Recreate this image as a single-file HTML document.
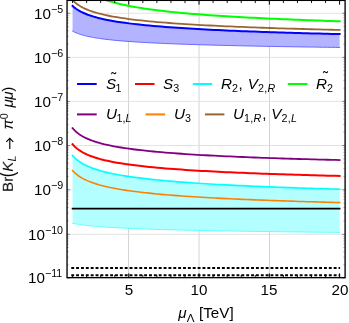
<!DOCTYPE html>
<html><head><meta charset="utf-8"><title>plot</title><style>
html,body{margin:0;padding:0;background:#fff;}
body{width:349px;height:323px;position:relative;overflow:hidden;font-family:"Liberation Sans",sans-serif;}
.t{position:absolute;font-size:15.2px;line-height:1;white-space:nowrap;color:#000;will-change:transform;transform:rotate(0.02deg);}
.t.r{text-align:right;}
.t.c{width:40px;text-align:center;}
.sup{font-size:10.7px;position:relative;top:-6.3px;line-height:0;}
.sup2{font-size:10.7px;position:relative;top:-5.4px;line-height:0;}
.sub{font-size:10.7px;position:relative;top:2.7px;line-height:0;}
.til{position:absolute;}
.cm{margin:0 0.7px 0 0.7px;}
.ls{letter-spacing:0.3px;}
.t.yl{transform-origin:0 0;transform:rotate(-89.98deg) translate(0,-100%);}
</style></head><body>
<svg width="349" height="323" viewBox="0 0 349 323" style="position:absolute;left:0;top:0">
<defs><clipPath id="c"><rect x="67.05" y="-0.33" width="278.05" height="277.98"/></clipPath></defs>
<g stroke="#d4d4d4" stroke-width="1"><line x1="128.55" x2="128.55" y1="0.37" y2="277.65"/><line x1="199.05" x2="199.05" y1="0.37" y2="277.65"/><line x1="269.50" x2="269.50" y1="0.37" y2="277.65"/></g>
<g stroke="#dcdcdc" stroke-width="0.8"><line x1="67.05" x2="345.10" y1="13.30" y2="13.30"/><line x1="67.05" x2="345.10" y1="57.40" y2="57.40"/><line x1="67.05" x2="345.10" y1="101.40" y2="101.40"/><line x1="67.05" x2="345.10" y1="145.50" y2="145.50"/><line x1="67.05" x2="345.10" y1="189.80" y2="189.80"/><line x1="67.05" x2="345.10" y1="234.30" y2="234.30"/></g>
<g clip-path="url(#c)">
<path d="M72.56 5.85 L73.73 6.90 L74.90 7.86 L76.07 8.73 L77.24 9.53 L78.41 10.27 L79.58 10.95 L80.75 11.59 L81.92 12.19 L83.10 12.75 L84.27 13.28 L85.44 13.78 L86.61 14.25 L87.78 14.70 L88.95 15.12 L90.12 15.53 L91.29 15.92 L92.47 16.29 L93.64 16.65 L94.81 16.99 L95.98 17.32 L97.15 17.63 L98.32 17.94 L99.49 18.23 L100.66 18.51 L104.71 19.42 L108.76 20.24 L112.81 20.98 L116.86 21.65 L120.91 22.27 L124.96 22.84 L129.01 23.38 L133.06 23.87 L137.11 24.34 L141.16 24.77 L145.21 25.18 L149.26 25.57 L153.31 25.94 L157.36 26.29 L161.41 26.62 L165.46 26.94 L169.51 27.24 L173.56 27.53 L177.61 27.81 L181.66 28.08 L185.71 28.33 L189.76 28.58 L193.81 28.82 L197.86 29.04 L201.91 29.27 L205.96 29.48 L210.01 29.69 L214.06 29.89 L218.11 30.08 L222.16 30.27 L226.21 30.45 L230.26 30.63 L234.31 30.80 L238.36 30.97 L242.41 31.13 L246.46 31.29 L250.51 31.45 L254.56 31.60 L258.61 31.74 L262.65 31.89 L266.70 32.03 L270.75 32.16 L274.80 32.30 L278.85 32.43 L282.90 32.56 L286.95 32.68 L291.00 32.80 L295.05 32.92 L299.10 33.04 L303.15 33.15 L307.20 33.27 L311.25 33.38 L315.30 33.49 L319.35 33.59 L323.40 33.70 L327.45 33.80 L331.50 33.90 L335.55 34.00 L339.60 34.09 L339.60 47.45 L335.55 47.40 L331.50 47.35 L327.45 47.29 L323.40 47.24 L319.35 47.18 L315.30 47.12 L311.25 47.07 L307.20 47.01 L303.15 46.95 L299.10 46.88 L295.05 46.82 L291.00 46.75 L286.95 46.69 L282.90 46.62 L278.85 46.55 L274.80 46.48 L270.75 46.41 L266.70 46.33 L262.65 46.26 L258.61 46.18 L254.56 46.10 L250.51 46.01 L246.46 45.93 L242.41 45.84 L238.36 45.75 L234.31 45.66 L230.26 45.56 L226.21 45.47 L222.16 45.36 L218.11 45.26 L214.06 45.15 L210.01 45.04 L205.96 44.93 L201.91 44.81 L197.86 44.68 L193.81 44.56 L189.76 44.42 L185.71 44.28 L181.66 44.14 L177.61 43.99 L173.56 43.83 L169.51 43.67 L165.46 43.50 L161.41 43.32 L157.36 43.13 L153.31 42.93 L149.26 42.72 L145.21 42.50 L141.16 42.27 L137.11 42.02 L133.06 41.75 L129.01 41.47 L124.96 41.16 L120.91 40.83 L116.86 40.47 L112.81 40.08 L108.76 39.65 L104.71 39.17 L100.66 38.64 L99.49 38.48 L98.32 38.30 L97.15 38.12 L95.98 37.94 L94.81 37.74 L93.64 37.54 L92.47 37.33 L91.29 37.11 L90.12 36.88 L88.95 36.64 L87.78 36.39 L86.61 36.12 L85.44 35.83 L84.27 35.54 L83.10 35.22 L81.92 34.88 L80.75 34.52 L79.58 34.13 L78.41 33.72 L77.24 33.27 L76.07 32.78 L74.90 32.24 L73.73 31.65 L72.56 31.00 Z" fill="#b3b3ff" stroke="none"/>
<path d="M72.56 155.58 L73.73 156.86 L74.90 158.01 L76.07 159.06 L77.24 160.02 L78.41 160.91 L79.58 161.74 L80.75 162.50 L81.92 163.22 L83.10 163.89 L84.27 164.53 L85.44 165.13 L86.61 165.69 L87.78 166.23 L88.95 166.74 L90.12 167.22 L91.29 167.69 L92.47 168.13 L93.64 168.56 L94.81 168.96 L95.98 169.35 L97.15 169.73 L98.32 170.09 L99.49 170.44 L100.66 170.78 L104.71 171.86 L108.76 172.83 L112.81 173.71 L116.86 174.51 L120.91 175.25 L124.96 175.93 L129.01 176.56 L133.06 177.14 L137.11 177.69 L141.16 178.21 L145.21 178.70 L149.26 179.16 L153.31 179.59 L157.36 180.00 L161.41 180.40 L165.46 180.77 L169.51 181.13 L173.56 181.47 L177.61 181.80 L181.66 182.12 L185.71 182.42 L189.76 182.71 L193.81 182.99 L197.86 183.26 L201.91 183.52 L205.96 183.77 L210.01 184.02 L214.06 184.25 L218.11 184.48 L222.16 184.71 L226.21 184.92 L230.26 185.13 L234.31 185.33 L238.36 185.53 L242.41 185.72 L246.46 185.91 L250.51 186.09 L254.56 186.27 L258.61 186.45 L262.65 186.62 L266.70 186.78 L270.75 186.94 L274.80 187.10 L278.85 187.25 L282.90 187.40 L286.95 187.55 L291.00 187.70 L295.05 187.84 L299.10 187.98 L303.15 188.11 L307.20 188.24 L311.25 188.38 L315.30 188.50 L319.35 188.63 L323.40 188.75 L327.45 188.87 L331.50 188.99 L335.55 189.11 L339.60 189.22 L339.60 232.42 L335.55 232.38 L331.50 232.34 L327.45 232.30 L323.40 232.25 L319.35 232.21 L315.30 232.17 L311.25 232.13 L307.20 232.08 L303.15 232.04 L299.10 231.99 L295.05 231.94 L291.00 231.89 L286.95 231.85 L282.90 231.80 L278.85 231.74 L274.80 231.69 L270.75 231.64 L266.70 231.58 L262.65 231.53 L258.61 231.47 L254.56 231.41 L250.51 231.35 L246.46 231.29 L242.41 231.23 L238.36 231.17 L234.31 231.10 L230.26 231.03 L226.21 230.97 L222.16 230.90 L218.11 230.82 L214.06 230.75 L210.01 230.67 L205.96 230.59 L201.91 230.51 L197.86 230.43 L193.81 230.34 L189.76 230.25 L185.71 230.16 L181.66 230.06 L177.61 229.96 L173.56 229.86 L169.51 229.75 L165.46 229.64 L161.41 229.52 L157.36 229.40 L153.31 229.28 L149.26 229.15 L145.21 229.01 L141.16 228.86 L137.11 228.71 L133.06 228.55 L129.01 228.38 L124.96 228.19 L120.91 228.00 L116.86 227.79 L112.81 227.57 L108.76 227.33 L104.71 227.07 L100.66 226.78 L99.49 226.70 L98.32 226.61 L97.15 226.51 L95.98 226.42 L94.81 226.32 L93.64 226.21 L92.47 226.11 L91.29 226.00 L90.12 225.88 L88.95 225.76 L87.78 225.64 L86.61 225.51 L85.44 225.38 L84.27 225.24 L83.10 225.09 L81.92 224.93 L80.75 224.77 L79.58 224.60 L78.41 224.42 L77.24 224.22 L76.07 224.02 L74.90 223.80 L73.73 223.56 L72.56 223.31 Z" fill="#b3ffff" stroke="none"/>
<path d="M72.56 31.00 L73.73 31.65 L74.90 32.24 L76.07 32.78 L77.24 33.27 L78.41 33.72 L79.58 34.13 L80.75 34.52 L81.92 34.88 L83.10 35.22 L84.27 35.54 L85.44 35.83 L86.61 36.12 L87.78 36.39 L88.95 36.64 L90.12 36.88 L91.29 37.11 L92.47 37.33 L93.64 37.54 L94.81 37.74 L95.98 37.94 L97.15 38.12 L98.32 38.30 L99.49 38.48 L100.66 38.64 L104.71 39.17 L108.76 39.65 L112.81 40.08 L116.86 40.47 L120.91 40.83 L124.96 41.16 L129.01 41.47 L133.06 41.75 L137.11 42.02 L141.16 42.27 L145.21 42.50 L149.26 42.72 L153.31 42.93 L157.36 43.13 L161.41 43.32 L165.46 43.50 L169.51 43.67 L173.56 43.83 L177.61 43.99 L181.66 44.14 L185.71 44.28 L189.76 44.42 L193.81 44.56 L197.86 44.68 L201.91 44.81 L205.96 44.93 L210.01 45.04 L214.06 45.15 L218.11 45.26 L222.16 45.36 L226.21 45.47 L230.26 45.56 L234.31 45.66 L238.36 45.75 L242.41 45.84 L246.46 45.93 L250.51 46.01 L254.56 46.10 L258.61 46.18 L262.65 46.26 L266.70 46.33 L270.75 46.41 L274.80 46.48 L278.85 46.55 L282.90 46.62 L286.95 46.69 L291.00 46.75 L295.05 46.82 L299.10 46.88 L303.15 46.95 L307.20 47.01 L311.25 47.07 L315.30 47.12 L319.35 47.18 L323.40 47.24 L327.45 47.29 L331.50 47.35 L335.55 47.40 L339.60 47.45" fill="none" stroke="#5c5cff" stroke-width="0.9" stroke-linejoin="round" stroke-linecap="square"/>
<path d="M72.56 223.31 L73.73 223.56 L74.90 223.80 L76.07 224.02 L77.24 224.22 L78.41 224.42 L79.58 224.60 L80.75 224.77 L81.92 224.93 L83.10 225.09 L84.27 225.24 L85.44 225.38 L86.61 225.51 L87.78 225.64 L88.95 225.76 L90.12 225.88 L91.29 226.00 L92.47 226.11 L93.64 226.21 L94.81 226.32 L95.98 226.42 L97.15 226.51 L98.32 226.61 L99.49 226.70 L100.66 226.78 L104.71 227.07 L108.76 227.33 L112.81 227.57 L116.86 227.79 L120.91 228.00 L124.96 228.19 L129.01 228.38 L133.06 228.55 L137.11 228.71 L141.16 228.86 L145.21 229.01 L149.26 229.15 L153.31 229.28 L157.36 229.40 L161.41 229.52 L165.46 229.64 L169.51 229.75 L173.56 229.86 L177.61 229.96 L181.66 230.06 L185.71 230.16 L189.76 230.25 L193.81 230.34 L197.86 230.43 L201.91 230.51 L205.96 230.59 L210.01 230.67 L214.06 230.75 L218.11 230.82 L222.16 230.90 L226.21 230.97 L230.26 231.03 L234.31 231.10 L238.36 231.17 L242.41 231.23 L246.46 231.29 L250.51 231.35 L254.56 231.41 L258.61 231.47 L262.65 231.53 L266.70 231.58 L270.75 231.64 L274.80 231.69 L278.85 231.74 L282.90 231.80 L286.95 231.85 L291.00 231.89 L295.05 231.94 L299.10 231.99 L303.15 232.04 L307.20 232.08 L311.25 232.13 L315.30 232.17 L319.35 232.21 L323.40 232.25 L327.45 232.30 L331.50 232.34 L335.55 232.38 L339.60 232.42" fill="none" stroke="#33ffff" stroke-width="0.7" stroke-linejoin="round" stroke-linecap="square"/>
<path d="M72.56 5.85 L73.73 6.90 L74.90 7.86 L76.07 8.73 L77.24 9.53 L78.41 10.27 L79.58 10.95 L80.75 11.59 L81.92 12.19 L83.10 12.75 L84.27 13.28 L85.44 13.78 L86.61 14.25 L87.78 14.70 L88.95 15.12 L90.12 15.53 L91.29 15.92 L92.47 16.29 L93.64 16.65 L94.81 16.99 L95.98 17.32 L97.15 17.63 L98.32 17.94 L99.49 18.23 L100.66 18.51 L104.71 19.42 L108.76 20.24 L112.81 20.98 L116.86 21.65 L120.91 22.27 L124.96 22.84 L129.01 23.38 L133.06 23.87 L137.11 24.34 L141.16 24.77 L145.21 25.18 L149.26 25.57 L153.31 25.94 L157.36 26.29 L161.41 26.62 L165.46 26.94 L169.51 27.24 L173.56 27.53 L177.61 27.81 L181.66 28.08 L185.71 28.33 L189.76 28.58 L193.81 28.82 L197.86 29.04 L201.91 29.27 L205.96 29.48 L210.01 29.69 L214.06 29.89 L218.11 30.08 L222.16 30.27 L226.21 30.45 L230.26 30.63 L234.31 30.80 L238.36 30.97 L242.41 31.13 L246.46 31.29 L250.51 31.45 L254.56 31.60 L258.61 31.74 L262.65 31.89 L266.70 32.03 L270.75 32.16 L274.80 32.30 L278.85 32.43 L282.90 32.56 L286.95 32.68 L291.00 32.80 L295.05 32.92 L299.10 33.04 L303.15 33.15 L307.20 33.27 L311.25 33.38 L315.30 33.49 L319.35 33.59 L323.40 33.70 L327.45 33.80 L331.50 33.90 L335.55 34.00 L339.60 34.09" fill="none" stroke="#0000ff" stroke-width="2" stroke-linejoin="round" stroke-linecap="square"/>
<path d="M72.56 144.28 L73.73 145.58 L74.90 146.74 L76.07 147.80 L77.24 148.76 L78.41 149.64 L79.58 150.46 L80.75 151.21 L81.92 151.91 L83.10 152.57 L84.27 153.19 L85.44 153.77 L86.61 154.31 L87.78 154.83 L88.95 155.32 L90.12 155.79 L91.29 156.23 L92.47 156.66 L93.64 157.06 L94.81 157.45 L95.98 157.82 L97.15 158.18 L98.32 158.52 L99.49 158.85 L100.66 159.17 L104.71 160.19 L108.76 161.10 L112.81 161.92 L116.86 162.66 L120.91 163.34 L124.96 163.97 L129.01 164.55 L133.06 165.10 L137.11 165.60 L141.16 166.07 L145.21 166.52 L149.26 166.94 L153.31 167.33 L157.36 167.71 L161.41 168.07 L165.46 168.41 L169.51 168.73 L173.56 169.04 L177.61 169.34 L181.66 169.62 L185.71 169.90 L189.76 170.16 L193.81 170.41 L197.86 170.65 L201.91 170.89 L205.96 171.11 L210.01 171.33 L214.06 171.54 L218.11 171.75 L222.16 171.95 L226.21 172.14 L230.26 172.33 L234.31 172.51 L238.36 172.68 L242.41 172.86 L246.46 173.02 L250.51 173.19 L254.56 173.34 L258.61 173.50 L262.65 173.65 L266.70 173.79 L270.75 173.94 L274.80 174.08 L278.85 174.21 L282.90 174.35 L286.95 174.48 L291.00 174.61 L295.05 174.73 L299.10 174.85 L303.15 174.97 L307.20 175.09 L311.25 175.20 L315.30 175.32 L319.35 175.43 L323.40 175.53 L327.45 175.64 L331.50 175.75 L335.55 175.85 L339.60 175.95" fill="none" stroke="#ff0000" stroke-width="2" stroke-linejoin="round" stroke-linecap="square"/>
<path d="M72.56 155.58 L73.73 156.86 L74.90 158.01 L76.07 159.06 L77.24 160.02 L78.41 160.91 L79.58 161.74 L80.75 162.50 L81.92 163.22 L83.10 163.89 L84.27 164.53 L85.44 165.13 L86.61 165.69 L87.78 166.23 L88.95 166.74 L90.12 167.22 L91.29 167.69 L92.47 168.13 L93.64 168.56 L94.81 168.96 L95.98 169.35 L97.15 169.73 L98.32 170.09 L99.49 170.44 L100.66 170.78 L104.71 171.86 L108.76 172.83 L112.81 173.71 L116.86 174.51 L120.91 175.25 L124.96 175.93 L129.01 176.56 L133.06 177.14 L137.11 177.69 L141.16 178.21 L145.21 178.70 L149.26 179.16 L153.31 179.59 L157.36 180.00 L161.41 180.40 L165.46 180.77 L169.51 181.13 L173.56 181.47 L177.61 181.80 L181.66 182.12 L185.71 182.42 L189.76 182.71 L193.81 182.99 L197.86 183.26 L201.91 183.52 L205.96 183.77 L210.01 184.02 L214.06 184.25 L218.11 184.48 L222.16 184.71 L226.21 184.92 L230.26 185.13 L234.31 185.33 L238.36 185.53 L242.41 185.72 L246.46 185.91 L250.51 186.09 L254.56 186.27 L258.61 186.45 L262.65 186.62 L266.70 186.78 L270.75 186.94 L274.80 187.10 L278.85 187.25 L282.90 187.40 L286.95 187.55 L291.00 187.70 L295.05 187.84 L299.10 187.98 L303.15 188.11 L307.20 188.24 L311.25 188.38 L315.30 188.50 L319.35 188.63 L323.40 188.75 L327.45 188.87 L331.50 188.99 L335.55 189.11 L339.60 189.22" fill="none" stroke="#00ffff" stroke-width="1.7" stroke-linejoin="round" stroke-linecap="square"/>
<path d="M72.56 -26.87 L73.73 -24.42 L74.90 -22.28 L76.07 -20.38 L77.24 -18.68 L78.41 -17.15 L79.58 -15.76 L80.75 -14.49 L81.92 -13.32 L83.10 -12.24 L84.27 -11.23 L85.44 -10.29 L86.61 -9.42 L87.78 -8.59 L88.95 -7.82 L90.12 -7.09 L91.29 -6.39 L92.47 -5.74 L93.64 -5.11 L94.81 -4.52 L95.98 -3.95 L97.15 -3.41 L98.32 -2.89 L99.49 -2.39 L100.66 -1.91 L104.71 -0.40 L108.76 0.94 L112.81 2.14 L116.86 3.21 L120.91 4.19 L124.96 5.09 L129.01 5.91 L133.06 6.67 L137.11 7.38 L141.16 8.04 L145.21 8.66 L149.26 9.24 L153.31 9.79 L157.36 10.31 L161.41 10.80 L165.46 11.26 L169.51 11.70 L173.56 12.12 L177.61 12.53 L181.66 12.91 L185.71 13.28 L189.76 13.63 L193.81 13.97 L197.86 14.30 L201.91 14.61 L205.96 14.92 L210.01 15.21 L214.06 15.49 L218.11 15.76 L222.16 16.03 L226.21 16.28 L230.26 16.53 L234.31 16.77 L238.36 17.00 L242.41 17.23 L246.46 17.45 L250.51 17.66 L254.56 17.87 L258.61 18.08 L262.65 18.27 L266.70 18.47 L270.75 18.65 L274.80 18.84 L278.85 19.02 L282.90 19.19 L286.95 19.36 L291.00 19.53 L295.05 19.69 L299.10 19.85 L303.15 20.01 L307.20 20.16 L311.25 20.31 L315.30 20.46 L319.35 20.60 L323.40 20.74 L327.45 20.88 L331.50 21.01 L335.55 21.15 L339.60 21.28" fill="none" stroke="#00ff00" stroke-width="2" stroke-linejoin="round" stroke-linecap="square"/>
<path d="M72.56 128.15 L73.73 129.48 L74.90 130.68 L76.07 131.76 L77.24 132.74 L78.41 133.64 L79.58 134.47 L80.75 135.24 L81.92 135.95 L83.10 136.62 L84.27 137.25 L85.44 137.84 L86.61 138.39 L87.78 138.91 L88.95 139.41 L90.12 139.88 L91.29 140.33 L92.47 140.76 L93.64 141.17 L94.81 141.56 L95.98 141.94 L97.15 142.30 L98.32 142.64 L99.49 142.98 L100.66 143.30 L104.71 144.32 L108.76 145.24 L112.81 146.06 L116.86 146.81 L120.91 147.50 L124.96 148.13 L129.01 148.71 L133.06 149.25 L137.11 149.76 L141.16 150.23 L145.21 150.67 L149.26 151.09 L153.31 151.49 L157.36 151.87 L161.41 152.22 L165.46 152.56 L169.51 152.89 L173.56 153.20 L177.61 153.49 L181.66 153.77 L185.71 154.05 L189.76 154.31 L193.81 154.56 L197.86 154.80 L201.91 155.04 L205.96 155.26 L210.01 155.48 L214.06 155.69 L218.11 155.89 L222.16 156.09 L226.21 156.28 L230.26 156.47 L234.31 156.65 L238.36 156.82 L242.41 156.99 L246.46 157.16 L250.51 157.32 L254.56 157.48 L258.61 157.63 L262.65 157.78 L266.70 157.93 L270.75 158.07 L274.80 158.21 L278.85 158.34 L282.90 158.48 L286.95 158.61 L291.00 158.73 L295.05 158.86 L299.10 158.98 L303.15 159.10 L307.20 159.21 L311.25 159.33 L315.30 159.44 L319.35 159.55 L323.40 159.66 L327.45 159.76 L331.50 159.86 L335.55 159.97 L339.60 160.06" fill="none" stroke="#800080" stroke-width="1.8" stroke-linejoin="round" stroke-linecap="square"/>
<path d="M72.56 170.56 L73.73 171.81 L74.90 172.94 L76.07 173.96 L77.24 174.90 L78.41 175.76 L79.58 176.56 L80.75 177.30 L81.92 177.99 L83.10 178.64 L84.27 179.25 L85.44 179.82 L86.61 180.37 L87.78 180.88 L88.95 181.37 L90.12 181.84 L91.29 182.28 L92.47 182.71 L93.64 183.11 L94.81 183.50 L95.98 183.88 L97.15 184.24 L98.32 184.58 L99.49 184.91 L100.66 185.24 L104.71 186.27 L108.76 187.19 L112.81 188.02 L116.86 188.78 L120.91 189.48 L124.96 190.12 L129.01 190.72 L133.06 191.27 L137.11 191.79 L141.16 192.28 L145.21 192.74 L149.26 193.17 L153.31 193.58 L157.36 193.97 L161.41 194.34 L165.46 194.69 L169.51 195.03 L173.56 195.35 L177.61 195.66 L181.66 195.95 L185.71 196.24 L189.76 196.51 L193.81 196.77 L197.86 197.02 L201.91 197.27 L205.96 197.51 L210.01 197.73 L214.06 197.95 L218.11 198.17 L222.16 198.38 L226.21 198.58 L230.26 198.77 L234.31 198.96 L238.36 199.15 L242.41 199.33 L246.46 199.50 L250.51 199.67 L254.56 199.84 L258.61 200.00 L262.65 200.16 L266.70 200.31 L270.75 200.46 L274.80 200.61 L278.85 200.75 L282.90 200.89 L286.95 201.03 L291.00 201.17 L295.05 201.30 L299.10 201.43 L303.15 201.55 L307.20 201.68 L311.25 201.80 L315.30 201.91 L319.35 202.03 L323.40 202.15 L327.45 202.26 L331.50 202.37 L335.55 202.48 L339.60 202.58" fill="none" stroke="#ff8000" stroke-width="1.6" stroke-linejoin="round" stroke-linecap="square"/>
<path d="M72.56 0.09 L73.73 1.28 L74.90 2.35 L76.07 3.32 L77.24 4.21 L78.41 5.03 L79.58 5.78 L80.75 6.48 L81.92 7.13 L83.10 7.75 L84.27 8.32 L85.44 8.86 L86.61 9.37 L87.78 9.86 L88.95 10.32 L90.12 10.75 L91.29 11.17 L92.47 11.57 L93.64 11.95 L94.81 12.31 L95.98 12.66 L97.15 13.00 L98.32 13.32 L99.49 13.63 L100.66 13.93 L104.71 14.89 L108.76 15.75 L112.81 16.53 L116.86 17.23 L120.91 17.88 L124.96 18.48 L129.01 19.03 L133.06 19.55 L137.11 20.03 L141.16 20.48 L145.21 20.90 L149.26 21.30 L153.31 21.68 L157.36 22.04 L161.41 22.38 L165.46 22.70 L169.51 23.01 L173.56 23.31 L177.61 23.60 L181.66 23.87 L185.71 24.13 L189.76 24.38 L193.81 24.62 L197.86 24.85 L201.91 25.08 L205.96 25.30 L210.01 25.51 L214.06 25.71 L218.11 25.91 L222.16 26.10 L226.21 26.28 L230.26 26.46 L234.31 26.64 L238.36 26.80 L242.41 26.97 L246.46 27.13 L250.51 27.29 L254.56 27.44 L258.61 27.59 L262.65 27.73 L266.70 27.87 L270.75 28.01 L274.80 28.14 L278.85 28.28 L282.90 28.40 L286.95 28.53 L291.00 28.65 L295.05 28.77 L299.10 28.89 L303.15 29.00 L307.20 29.12 L311.25 29.23 L315.30 29.34 L319.35 29.44 L323.40 29.55 L327.45 29.65 L331.50 29.75 L335.55 29.85 L339.60 29.95" fill="none" stroke="#996633" stroke-width="1.8" stroke-linejoin="round" stroke-linecap="square"/>
<line x1="71.71" x2="340.45" y1="208.6" y2="208.6" stroke="#000" stroke-width="1.7"/>
<line x1="71.26" x2="340.10" y1="268.00" y2="268.00" stroke="#000" stroke-width="1.9" stroke-dasharray="2.9 1.96"/>
<line x1="71.26" x2="340.10" y1="275.30" y2="275.30" stroke="#000" stroke-width="1.9" stroke-dasharray="2.9 1.96"/>
</g>
<g stroke="#000" stroke-width="1"><line x1="72.56" x2="72.56" y1="277.65" y2="274.95" stroke-width="0.9"/><line x1="72.56" x2="72.56" y1="0.37" y2="3.07" stroke-width="0.9"/><line x1="86.61" x2="86.61" y1="277.65" y2="274.95" stroke-width="0.9"/><line x1="86.61" x2="86.61" y1="0.37" y2="3.07" stroke-width="0.9"/><line x1="100.66" x2="100.66" y1="277.65" y2="274.95" stroke-width="0.9"/><line x1="100.66" x2="100.66" y1="0.37" y2="3.07" stroke-width="0.9"/><line x1="114.72" x2="114.72" y1="277.65" y2="274.95" stroke-width="0.9"/><line x1="114.72" x2="114.72" y1="0.37" y2="3.07" stroke-width="0.9"/><line x1="128.78" x2="128.78" y1="277.65" y2="273.35" stroke-width="1.0"/><line x1="128.78" x2="128.78" y1="0.37" y2="4.67" stroke-width="1.0"/><line x1="142.83" x2="142.83" y1="277.65" y2="274.95" stroke-width="0.9"/><line x1="142.83" x2="142.83" y1="0.37" y2="3.07" stroke-width="0.9"/><line x1="156.88" x2="156.88" y1="277.65" y2="274.95" stroke-width="0.9"/><line x1="156.88" x2="156.88" y1="0.37" y2="3.07" stroke-width="0.9"/><line x1="170.94" x2="170.94" y1="277.65" y2="274.95" stroke-width="0.9"/><line x1="170.94" x2="170.94" y1="0.37" y2="3.07" stroke-width="0.9"/><line x1="185.00" x2="185.00" y1="277.65" y2="274.95" stroke-width="0.9"/><line x1="185.00" x2="185.00" y1="0.37" y2="3.07" stroke-width="0.9"/><line x1="199.05" x2="199.05" y1="277.65" y2="273.35" stroke-width="1.0"/><line x1="199.05" x2="199.05" y1="0.37" y2="4.67" stroke-width="1.0"/><line x1="213.10" x2="213.10" y1="277.65" y2="274.95" stroke-width="0.9"/><line x1="213.10" x2="213.10" y1="0.37" y2="3.07" stroke-width="0.9"/><line x1="227.16" x2="227.16" y1="277.65" y2="274.95" stroke-width="0.9"/><line x1="227.16" x2="227.16" y1="0.37" y2="3.07" stroke-width="0.9"/><line x1="241.22" x2="241.22" y1="277.65" y2="274.95" stroke-width="0.9"/><line x1="241.22" x2="241.22" y1="0.37" y2="3.07" stroke-width="0.9"/><line x1="255.27" x2="255.27" y1="277.65" y2="274.95" stroke-width="0.9"/><line x1="255.27" x2="255.27" y1="0.37" y2="3.07" stroke-width="0.9"/><line x1="269.32" x2="269.32" y1="277.65" y2="273.35" stroke-width="1.0"/><line x1="269.32" x2="269.32" y1="0.37" y2="4.67" stroke-width="1.0"/><line x1="283.38" x2="283.38" y1="277.65" y2="274.95" stroke-width="0.9"/><line x1="283.38" x2="283.38" y1="0.37" y2="3.07" stroke-width="0.9"/><line x1="297.44" x2="297.44" y1="277.65" y2="274.95" stroke-width="0.9"/><line x1="297.44" x2="297.44" y1="0.37" y2="3.07" stroke-width="0.9"/><line x1="311.49" x2="311.49" y1="277.65" y2="274.95" stroke-width="0.9"/><line x1="311.49" x2="311.49" y1="0.37" y2="3.07" stroke-width="0.9"/><line x1="325.55" x2="325.55" y1="277.65" y2="274.95" stroke-width="0.9"/><line x1="325.55" x2="325.55" y1="0.37" y2="3.07" stroke-width="0.9"/><line x1="339.60" x2="339.60" y1="277.65" y2="273.35" stroke-width="1.0"/><line x1="339.60" x2="339.60" y1="0.37" y2="4.67" stroke-width="1.0"/></g>
<g stroke="#000"><line x1="67.05" x2="70.05" y1="13.30" y2="13.30" stroke-width="0.4"/><line x1="345.10" x2="342.10" y1="13.30" y2="13.30" stroke-width="0.4"/><line x1="67.05" x2="70.05" y1="57.40" y2="57.40" stroke-width="0.4"/><line x1="345.10" x2="342.10" y1="57.40" y2="57.40" stroke-width="0.4"/><line x1="67.05" x2="68.95" y1="44.12" y2="44.12" stroke-width="0.25"/><line x1="345.10" x2="343.20" y1="44.12" y2="44.12" stroke-width="0.25"/><line x1="67.05" x2="68.95" y1="36.36" y2="36.36" stroke-width="0.25"/><line x1="345.10" x2="343.20" y1="36.36" y2="36.36" stroke-width="0.25"/><line x1="67.05" x2="68.95" y1="30.85" y2="30.85" stroke-width="0.25"/><line x1="345.10" x2="343.20" y1="30.85" y2="30.85" stroke-width="0.25"/><line x1="67.05" x2="68.95" y1="26.58" y2="26.58" stroke-width="0.25"/><line x1="345.10" x2="343.20" y1="26.58" y2="26.58" stroke-width="0.25"/><line x1="67.05" x2="68.95" y1="23.08" y2="23.08" stroke-width="0.25"/><line x1="345.10" x2="343.20" y1="23.08" y2="23.08" stroke-width="0.25"/><line x1="67.05" x2="68.95" y1="20.13" y2="20.13" stroke-width="0.25"/><line x1="345.10" x2="343.20" y1="20.13" y2="20.13" stroke-width="0.25"/><line x1="67.05" x2="68.95" y1="17.57" y2="17.57" stroke-width="0.25"/><line x1="345.10" x2="343.20" y1="17.57" y2="17.57" stroke-width="0.25"/><line x1="67.05" x2="68.95" y1="15.32" y2="15.32" stroke-width="0.25"/><line x1="345.10" x2="343.20" y1="15.32" y2="15.32" stroke-width="0.25"/><line x1="67.05" x2="70.05" y1="101.40" y2="101.40" stroke-width="0.4"/><line x1="345.10" x2="342.10" y1="101.40" y2="101.40" stroke-width="0.4"/><line x1="67.05" x2="68.95" y1="88.15" y2="88.15" stroke-width="0.25"/><line x1="345.10" x2="343.20" y1="88.15" y2="88.15" stroke-width="0.25"/><line x1="67.05" x2="68.95" y1="80.41" y2="80.41" stroke-width="0.25"/><line x1="345.10" x2="343.20" y1="80.41" y2="80.41" stroke-width="0.25"/><line x1="67.05" x2="68.95" y1="74.91" y2="74.91" stroke-width="0.25"/><line x1="345.10" x2="343.20" y1="74.91" y2="74.91" stroke-width="0.25"/><line x1="67.05" x2="68.95" y1="70.65" y2="70.65" stroke-width="0.25"/><line x1="345.10" x2="343.20" y1="70.65" y2="70.65" stroke-width="0.25"/><line x1="67.05" x2="68.95" y1="67.16" y2="67.16" stroke-width="0.25"/><line x1="345.10" x2="343.20" y1="67.16" y2="67.16" stroke-width="0.25"/><line x1="67.05" x2="68.95" y1="64.22" y2="64.22" stroke-width="0.25"/><line x1="345.10" x2="343.20" y1="64.22" y2="64.22" stroke-width="0.25"/><line x1="67.05" x2="68.95" y1="61.66" y2="61.66" stroke-width="0.25"/><line x1="345.10" x2="343.20" y1="61.66" y2="61.66" stroke-width="0.25"/><line x1="67.05" x2="68.95" y1="59.41" y2="59.41" stroke-width="0.25"/><line x1="345.10" x2="343.20" y1="59.41" y2="59.41" stroke-width="0.25"/><line x1="67.05" x2="70.05" y1="145.50" y2="145.50" stroke-width="0.4"/><line x1="345.10" x2="342.10" y1="145.50" y2="145.50" stroke-width="0.4"/><line x1="67.05" x2="68.95" y1="132.22" y2="132.22" stroke-width="0.25"/><line x1="345.10" x2="343.20" y1="132.22" y2="132.22" stroke-width="0.25"/><line x1="67.05" x2="68.95" y1="124.46" y2="124.46" stroke-width="0.25"/><line x1="345.10" x2="343.20" y1="124.46" y2="124.46" stroke-width="0.25"/><line x1="67.05" x2="68.95" y1="118.95" y2="118.95" stroke-width="0.25"/><line x1="345.10" x2="343.20" y1="118.95" y2="118.95" stroke-width="0.25"/><line x1="67.05" x2="68.95" y1="114.68" y2="114.68" stroke-width="0.25"/><line x1="345.10" x2="343.20" y1="114.68" y2="114.68" stroke-width="0.25"/><line x1="67.05" x2="68.95" y1="111.18" y2="111.18" stroke-width="0.25"/><line x1="345.10" x2="343.20" y1="111.18" y2="111.18" stroke-width="0.25"/><line x1="67.05" x2="68.95" y1="108.23" y2="108.23" stroke-width="0.25"/><line x1="345.10" x2="343.20" y1="108.23" y2="108.23" stroke-width="0.25"/><line x1="67.05" x2="68.95" y1="105.67" y2="105.67" stroke-width="0.25"/><line x1="345.10" x2="343.20" y1="105.67" y2="105.67" stroke-width="0.25"/><line x1="67.05" x2="68.95" y1="103.42" y2="103.42" stroke-width="0.25"/><line x1="345.10" x2="343.20" y1="103.42" y2="103.42" stroke-width="0.25"/><line x1="67.05" x2="70.05" y1="189.80" y2="189.80" stroke-width="0.4"/><line x1="345.10" x2="342.10" y1="189.80" y2="189.80" stroke-width="0.4"/><line x1="67.05" x2="68.95" y1="176.46" y2="176.46" stroke-width="0.25"/><line x1="345.10" x2="343.20" y1="176.46" y2="176.46" stroke-width="0.25"/><line x1="67.05" x2="68.95" y1="168.66" y2="168.66" stroke-width="0.25"/><line x1="345.10" x2="343.20" y1="168.66" y2="168.66" stroke-width="0.25"/><line x1="67.05" x2="68.95" y1="163.13" y2="163.13" stroke-width="0.25"/><line x1="345.10" x2="343.20" y1="163.13" y2="163.13" stroke-width="0.25"/><line x1="67.05" x2="68.95" y1="158.84" y2="158.84" stroke-width="0.25"/><line x1="345.10" x2="343.20" y1="158.84" y2="158.84" stroke-width="0.25"/><line x1="67.05" x2="68.95" y1="155.33" y2="155.33" stroke-width="0.25"/><line x1="345.10" x2="343.20" y1="155.33" y2="155.33" stroke-width="0.25"/><line x1="67.05" x2="68.95" y1="152.36" y2="152.36" stroke-width="0.25"/><line x1="345.10" x2="343.20" y1="152.36" y2="152.36" stroke-width="0.25"/><line x1="67.05" x2="68.95" y1="149.79" y2="149.79" stroke-width="0.25"/><line x1="345.10" x2="343.20" y1="149.79" y2="149.79" stroke-width="0.25"/><line x1="67.05" x2="68.95" y1="147.53" y2="147.53" stroke-width="0.25"/><line x1="345.10" x2="343.20" y1="147.53" y2="147.53" stroke-width="0.25"/><line x1="67.05" x2="70.05" y1="234.30" y2="234.30" stroke-width="0.4"/><line x1="345.10" x2="342.10" y1="234.30" y2="234.30" stroke-width="0.4"/><line x1="67.05" x2="68.95" y1="220.90" y2="220.90" stroke-width="0.25"/><line x1="345.10" x2="343.20" y1="220.90" y2="220.90" stroke-width="0.25"/><line x1="67.05" x2="68.95" y1="213.07" y2="213.07" stroke-width="0.25"/><line x1="345.10" x2="343.20" y1="213.07" y2="213.07" stroke-width="0.25"/><line x1="67.05" x2="68.95" y1="207.51" y2="207.51" stroke-width="0.25"/><line x1="345.10" x2="343.20" y1="207.51" y2="207.51" stroke-width="0.25"/><line x1="67.05" x2="68.95" y1="203.20" y2="203.20" stroke-width="0.25"/><line x1="345.10" x2="343.20" y1="203.20" y2="203.20" stroke-width="0.25"/><line x1="67.05" x2="68.95" y1="199.67" y2="199.67" stroke-width="0.25"/><line x1="345.10" x2="343.20" y1="199.67" y2="199.67" stroke-width="0.25"/><line x1="67.05" x2="68.95" y1="196.69" y2="196.69" stroke-width="0.25"/><line x1="345.10" x2="343.20" y1="196.69" y2="196.69" stroke-width="0.25"/><line x1="67.05" x2="68.95" y1="194.11" y2="194.11" stroke-width="0.25"/><line x1="345.10" x2="343.20" y1="194.11" y2="194.11" stroke-width="0.25"/><line x1="67.05" x2="68.95" y1="191.84" y2="191.84" stroke-width="0.25"/><line x1="345.10" x2="343.20" y1="191.84" y2="191.84" stroke-width="0.25"/><line x1="67.05" x2="70.05" y1="278.00" y2="278.00" stroke-width="0.4"/><line x1="345.10" x2="342.10" y1="278.00" y2="278.00" stroke-width="0.4"/><line x1="67.05" x2="68.95" y1="264.84" y2="264.84" stroke-width="0.25"/><line x1="345.10" x2="343.20" y1="264.84" y2="264.84" stroke-width="0.25"/><line x1="67.05" x2="68.95" y1="257.15" y2="257.15" stroke-width="0.25"/><line x1="345.10" x2="343.20" y1="257.15" y2="257.15" stroke-width="0.25"/><line x1="67.05" x2="68.95" y1="251.69" y2="251.69" stroke-width="0.25"/><line x1="345.10" x2="343.20" y1="251.69" y2="251.69" stroke-width="0.25"/><line x1="67.05" x2="68.95" y1="247.46" y2="247.46" stroke-width="0.25"/><line x1="345.10" x2="343.20" y1="247.46" y2="247.46" stroke-width="0.25"/><line x1="67.05" x2="68.95" y1="243.99" y2="243.99" stroke-width="0.25"/><line x1="345.10" x2="343.20" y1="243.99" y2="243.99" stroke-width="0.25"/><line x1="67.05" x2="68.95" y1="241.07" y2="241.07" stroke-width="0.25"/><line x1="345.10" x2="343.20" y1="241.07" y2="241.07" stroke-width="0.25"/><line x1="67.05" x2="68.95" y1="238.53" y2="238.53" stroke-width="0.25"/><line x1="345.10" x2="343.20" y1="238.53" y2="238.53" stroke-width="0.25"/><line x1="67.05" x2="68.95" y1="236.30" y2="236.30" stroke-width="0.25"/><line x1="345.10" x2="343.20" y1="236.30" y2="236.30" stroke-width="0.25"/></g>
<rect x="67.05" y="0.37" width="278.05" height="277.28" fill="none" stroke="#000" stroke-width="1.35"/>
<line x1="77.00" x2="96.70" y1="84.00" y2="84.00" stroke="#0000ff" stroke-width="2"/>
<line x1="135.00" x2="154.50" y1="84.00" y2="84.00" stroke="#ff0000" stroke-width="2"/>
<line x1="192.80" x2="212.20" y1="84.00" y2="84.00" stroke="#00ffff" stroke-width="2"/>
<line x1="287.80" x2="307.50" y1="84.00" y2="84.00" stroke="#00ff00" stroke-width="2"/>
<line x1="77.00" x2="96.70" y1="114.40" y2="114.40" stroke="#800080" stroke-width="2"/>
<line x1="145.60" x2="165.10" y1="114.40" y2="114.40" stroke="#ff8000" stroke-width="2"/>
<line x1="204.90" x2="224.40" y1="114.40" y2="114.40" stroke="#996633" stroke-width="2"/>
<g stroke="#000" stroke-width="1.15" fill="none"><line x1="9.8" x2="9.8" y1="149.1" y2="138.8"/><polyline points="6.3,141.9 9.8,138.4 13.3,141.9"/></g>
</svg>
<div class="t r" style="right:285.60px;top:5.93px">10<span class="sup">−5</span></div>
<div class="t r" style="right:285.60px;top:50.03px">10<span class="sup">−6</span></div>
<div class="t r" style="right:285.60px;top:94.03px">10<span class="sup">−7</span></div>
<div class="t r" style="right:285.60px;top:138.13px">10<span class="sup">−8</span></div>
<div class="t r" style="right:285.60px;top:182.43px">10<span class="sup">−9</span></div>
<div class="t r" style="right:285.60px;top:226.93px">10<span class="sup">−10</span></div>
<div class="t r" style="right:286.30px;top:269.63px">10<span class="sup">−11</span></div>
<div class="t c" style="left:108.78px;top:282.13px">5</div>
<div class="t c" style="left:179.05px;top:282.13px">10</div>
<div class="t c" style="left:249.32px;top:282.13px">15</div>
<div class="t c" style="left:319.60px;top:282.13px">20</div>
<div class="t c" style="left:145.70px;top:304.63px;width:120px"><i>μ</i><span class="sub" style="font-size:11.6px;top:3.6px">Λ</span><span style="display:inline-block;width:4.6px"></span>[TeV]</div>
<div class="t yl" style="left:14.90px;top:191.60px">Br<span style="display:inline-block;transform:scale(1.08,1.27);transform-origin:50% 58%">(</span><i>K</i><span class="sub"><i>L</i></span><span style="display:inline-block;width:26.20px"></span><i>π</i><span class="sup2">0</span><span style="display:inline-block;width:5.8px"></span><i style="letter-spacing:-0.45px">μμ</i>)</div>
<div class="t" style="left:105.60px;top:75.83px"><i>S</i><span class="til" style="left:5.20px;top:-6.00px">˜</span><span class="sub" style="margin-left:-0.6px">1</span></div>
<div class="t" style="left:163.20px;top:75.83px"><i>S</i><span class="sub">3</span></div>
<div class="t" style="left:220.80px;top:75.83px"><i>R</i><span class="sub">2</span><span class="cm">, </span><i>V</i><span class="sub ls">2,<i>R</i></span></div>
<div class="t" style="left:315.80px;top:75.83px"><i>R</i><span class="til" style="left:6.90px;top:-7.20px">˜</span><span class="sub">2</span></div>
<div class="t" style="left:105.80px;top:106.33px"><i>U</i><span class="sub" style="margin-left:-0.5px">1,<i>L</i></span></div>
<div class="t" style="left:173.60px;top:106.33px"><i>U</i><span class="sub">3</span></div>
<div class="t" style="left:232.80px;top:106.33px"><i>U</i><span class="sub ls">1,<i>R</i></span><span class="cm">, </span><i>V</i><span class="sub ls">2,<i>L</i></span></div>
</body></html>
